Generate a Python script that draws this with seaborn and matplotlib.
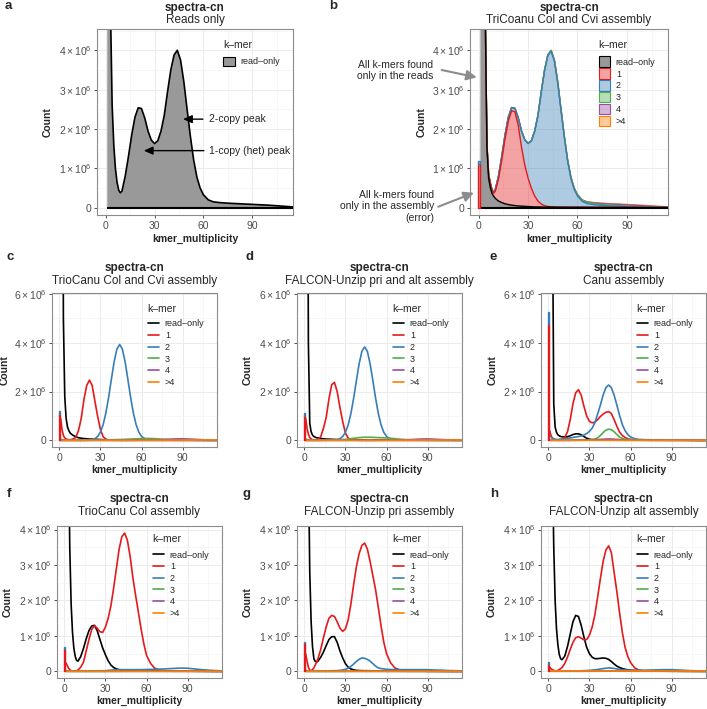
import numpy as np
import pandas as pd
import matplotlib
matplotlib.use("Agg")
import matplotlib.pyplot as plt
from matplotlib.ticker import MultipleLocator, FuncFormatter
from matplotlib.patches import Patch
from matplotlib.lines import Line2D
from matplotlib.colors import to_rgba
import seaborn as sns

# k-mer multiplicity grids: dense for the big curves, sparse for the flat ones
XS = [1, 2, 3, 4, 5, 6, 7, 8, 9, 10,
      12, 14, 16, 18, 20, 22, 24, 26, 28, 30,
      32, 34, 36, 38, 40, 42, 44, 46, 48, 50,
      52, 54, 56, 58, 60, 63, 66, 70, 75,
      80, 85, 90, 95, 100, 105, 110, 115]
XB = [1, 5, 10, 15, 20, 25, 30, 35, 40,
      44, 48, 52, 56, 60, 65, 70, 75,
      80, 85, 90, 95, 100, 105, 110, 115]

LEVELS = ["read–only", "1", "2", "3", "4", ">4"]
COLORS = ["#000000", "#E41A1C", "#377EB8", "#4DAF4A", "#984EA3", "#FF7F00"]
GRAY = "#999999"

# counts in millions
# a: reads only
a_read = [60, 20, 5.0, 2.6, 1.6, 1.0, 0.65, 0.45, 0.38, 0.42,
          0.8, 1.3, 1.85, 2.3, 2.54, 2.52, 2.28, 1.95, 1.72, 1.63,
          1.7, 1.95, 2.35, 2.95, 3.5, 3.88, 4.0, 3.75, 3.2, 2.5,
          1.82, 1.22, 0.78, 0.5, 0.33, 0.2, 0.15, 0.13, 0.115,
          0.105, 0.095, 0.085, 0.075, 0.065, 0.05, 0.035, 0.02]

# b: stacked layers
b_read = [60, 25, 12, 4.8, 1.5, 0.75, 0.52, 0.37, 0.3, 0.24,
          0.17, 0.13, 0.1, 0.08, 0.065, 0.055, 0.045, 0.04, 0.035, 0.03,
          0.025, 0.02, 0.02, 0.018, 0.016, 0.015, 0.014, 0.013, 0.012, 0.011,
          0.01, 0.01, 0.01, 0.01, 0.01, 0.01, 0.009, 0.008, 0.008,
          0.007, 0.007, 0.006, 0.006, 0.005, 0.005, 0.005, 0.004]
b_k1 = [0, 0, 0.05, 0.05, 0.08, 0.1, 0.1, 0.08, 0.07, 0.17,
        0.55, 1.08, 1.65, 2.12, 2.4, 2.38, 2.05, 1.5, 1.05, 0.72,
        0.47, 0.28, 0.15, 0.075, 0.035, 0.018, 0.01, 0.008, 0.008, 0.007,
        0.007, 0.006, 0.006, 0.005, 0.005, 0.005, 0.005, 0.005, 0.005,
        0.004, 0.004, 0.004, 0.003, 0.003, 0.003, 0.002, 0.002]
b_k2 = [0, 0, 0.02, 0.02, 0.02, 0.02, 0.02, 0.02, 0.02, 0.04,
        0.08, 0.09, 0.1, 0.1, 0.08, 0.09, 0.19, 0.41, 0.64, 0.88,
        1.2, 1.64, 2.17, 2.84, 3.43, 3.83, 3.95, 3.7, 3.15, 2.45,
        1.77, 1.17, 0.73, 0.45, 0.28, 0.14, 0.09, 0.063, 0.045,
        0.034, 0.026, 0.019, 0.013, 0.01, 0.004, 0.002, 0.0]
b_k3 = [0, 0, 0, 0, 0, 0, 0, 0, 0, 0,
        0, 0, 0, 0, 0, 0, 0, 0, 0, 0.005,
        0.01, 0.01, 0.012, 0.015, 0.018, 0.02, 0.022, 0.025, 0.028, 0.03,
        0.03, 0.032, 0.032, 0.032, 0.032, 0.03, 0.03, 0.028, 0.022,
        0.018, 0.014, 0.01, 0.008, 0.006, 0.005, 0.004, 0.003]
b_k4 = [0, 0, 0, 0, 0, 0, 0, 0, 0, 0,
        0, 0, 0, 0, 0, 0, 0, 0, 0, 0,
        0, 0, 0, 0, 0, 0, 0, 0, 0, 0,
        0, 0, 0, 0, 0.004, 0.008, 0.012, 0.02, 0.028,
        0.032, 0.034, 0.033, 0.03, 0.025, 0.018, 0.012, 0.007]
b_k5 = [0, 0, 0, 0, 0, 0, 0, 0, 0, 0,
        0, 0, 0, 0, 0, 0, 0, 0, 0, 0,
        0, 0, 0, 0, 0, 0, 0, 0, 0, 0,
        0, 0, 0, 0, 0.002, 0.003, 0.004, 0.004, 0.005,
        0.006, 0.008, 0.01, 0.012, 0.013, 0.012, 0.01, 0.008]

# c: TrioCanu Col and Cvi
c_read = [40, 25, 5, 1.8, 0.9, 0.55, 0.4, 0.3, 0.25, 0.21,
          0.15, 0.11, 0.09, 0.075, 0.065, 0.055, 0.05, 0.045, 0.04, 0.035,
          0.03, 0.025, 0.02, 0.018, 0.015, 0.013, 0.012, 0.011, 0.01, 0.01,
          0.01, 0.01, 0.01, 0.01, 0.01, 0.008, 0.008, 0.007, 0.006,
          0.006, 0.005, 0.005, 0.005, 0.004, 0.004, 0.003, 0.003]
c_k1 = [0.9, 0.45, 0.2, 0.1, 0.06, 0.04, 0.03, 0.03, 0.04, 0.06,
        0.12, 0.4, 0.9, 1.68, 2.25, 2.47, 2.25, 1.6, 0.98, 0.45,
        0.15, 0.05, 0.02, 0.01, 0.005, 0.005, 0.005, 0.004, 0.004, 0.004,
        0.004, 0.003, 0.003, 0.003, 0.003, 0.003, 0.002, 0.002, 0.002,
        0.002, 0.002, 0.002, 0.002, 0.002, 0.002, 0.002, 0.002]
c_k2 = [0.05, 0.03, 0.02, 0.01, 0.01, 0.01, 0.01, 0.01, 0.01, 0.01,
        0.01, 0.01, 0.01, 0.01, 0.01, 0.015, 0.03, 0.07, 0.16, 0.34,
        0.65, 1.13, 1.77, 2.51, 3.22, 3.74, 3.93, 3.74, 3.22, 2.51,
        1.77, 1.13, 0.65, 0.34, 0.16, 0.05, 0.02, 0.015, 0.015,
        0.015, 0.015, 0.015, 0.012, 0.01, 0.008, 0.006, 0.005]
c_k3 = [0, 0, 0, 0, 0.005, 0.01, 0.015, 0.02, 0.03,
        0.035, 0.045, 0.055, 0.065, 0.075, 0.08, 0.07, 0.05,
        0.035, 0.025, 0.015, 0.01, 0.008, 0.005, 0.004, 0.003]
c_k4 = [0, 0, 0, 0, 0, 0, 0, 0, 0,
        0, 0, 0, 0.002, 0.004, 0.008, 0.015, 0.03,
        0.045, 0.06, 0.065, 0.055, 0.04, 0.025, 0.015, 0.01]
c_k5 = [0.003, 0.003, 0.003, 0.003, 0.003, 0.003, 0.003, 0.003, 0.003,
        0.003, 0.003, 0.004, 0.004, 0.005, 0.006, 0.007, 0.008,
        0.01, 0.012, 0.014, 0.016, 0.018, 0.02, 0.022, 0.024]

# d: FALCON-Unzip pri and alt
d_read = [40, 20, 4, 0.7, 0.35, 0.22, 0.16, 0.13, 0.11, 0.1,
          0.08, 0.065, 0.055, 0.05, 0.045, 0.04, 0.035, 0.03, 0.028, 0.025,
          0.022, 0.02, 0.018, 0.016, 0.014, 0.013, 0.012, 0.011, 0.01, 0.01,
          0.01, 0.01, 0.01, 0.01, 0.01, 0.008, 0.008, 0.007, 0.006,
          0.006, 0.005, 0.005, 0.005, 0.004, 0.004, 0.003, 0.003]
d_k1 = [0.9, 0.5, 0.25, 0.12, 0.06, 0.03, 0.02, 0.02, 0.03, 0.05,
        0.15, 0.5, 0.95, 1.7, 2.28, 2.38, 2.0, 1.35, 0.78, 0.3,
        0.1, 0.03, 0.015, 0.01, 0.006, 0.005, 0.005, 0.004, 0.004, 0.004,
        0.004, 0.003, 0.003, 0.003, 0.003, 0.003, 0.002, 0.002, 0.002,
        0.002, 0.002, 0.002, 0.002, 0.002, 0.002, 0.002, 0.002]
d_k2 = [0.05, 0.03, 0.02, 0.01, 0.01, 0.01, 0.01, 0.01, 0.01, 0.01,
        0.01, 0.01, 0.01, 0.01, 0.01, 0.015, 0.03, 0.07, 0.16, 0.33,
        0.63, 1.1, 1.73, 2.45, 3.14, 3.65, 3.83, 3.65, 3.14, 2.45,
        1.73, 1.1, 0.63, 0.33, 0.16, 0.05, 0.025, 0.02, 0.02,
        0.02, 0.02, 0.018, 0.015, 0.012, 0.01, 0.008, 0.006]
d_k3 = [0, 0, 0, 0.005, 0.01, 0.02, 0.04, 0.08, 0.115,
        0.13, 0.13, 0.12, 0.11, 0.1, 0.075, 0.05, 0.03,
        0.02, 0.012, 0.008, 0.005, 0.004, 0.003, 0.002, 0.002]
d_k4 = [0, 0, 0, 0, 0, 0, 0, 0, 0,
        0, 0, 0.002, 0.003, 0.005, 0.01, 0.015, 0.025,
        0.04, 0.055, 0.06, 0.05, 0.035, 0.022, 0.012, 0.008]
d_k5 = [0.003, 0.003, 0.003, 0.003, 0.003, 0.003, 0.003, 0.003, 0.003,
        0.003, 0.003, 0.004, 0.004, 0.005, 0.006, 0.007, 0.008,
        0.01, 0.011, 0.012, 0.014, 0.015, 0.016, 0.018, 0.02]

# e: Canu
e_read = [40, 25, 10, 1.5, 0.55, 0.33, 0.23, 0.19, 0.16, 0.15,
          0.14, 0.15, 0.19, 0.24, 0.27, 0.27, 0.23, 0.16, 0.09, 0.05,
          0.03, 0.02, 0.015, 0.012, 0.01, 0.01, 0.01, 0.01, 0.01, 0.008,
          0.008, 0.007, 0.007, 0.006, 0.006, 0.005, 0.005, 0.005, 0.004,
          0.004, 0.004, 0.003, 0.003, 0.003, 0.002, 0.002, 0.002]
e_k1 = [0.4, 0.2, 0.08, 0.04, 0.02, 0.02, 0.02, 0.03, 0.04, 0.05,
        0.12, 0.35, 0.85, 1.5, 1.95, 2.08, 1.85, 1.4, 1.0, 0.78,
        0.72, 0.75, 0.85, 0.98, 1.08, 1.15, 1.18, 1.1, 0.85, 0.58,
        0.34, 0.2, 0.12, 0.07, 0.04, 0.02, 0.012, 0.008, 0.006,
        0.005, 0.005, 0.004, 0.004, 0.003, 0.003, 0.002, 0.002]
e_k2 = [0.2, 0.15, 0.1, 0.07, 0.05, 0.04, 0.04, 0.04, 0.04, 0.05,
        0.06, 0.08, 0.1, 0.12, 0.14, 0.16, 0.18, 0.22, 0.28, 0.37,
        0.5, 0.73, 1.08, 1.45, 1.86, 2.16, 2.27, 2.16, 1.86, 1.45,
        1.02, 0.65, 0.4, 0.24, 0.14, 0.07, 0.04, 0.03, 0.025,
        0.02, 0.02, 0.02, 0.015, 0.01, 0.01, 0.005, 0.004]
e_k3 = [0.01, 0.01, 0.01, 0.01, 0.01, 0.01, 0.01, 0.01, 0.01, 0.01,
        0.01, 0.01, 0.01, 0.015, 0.015, 0.02, 0.02, 0.02, 0.025, 0.03,
        0.04, 0.06, 0.11, 0.2, 0.32, 0.42, 0.46, 0.44, 0.36, 0.24,
        0.14, 0.08, 0.05, 0.04, 0.035, 0.03, 0.025, 0.02, 0.015,
        0.012, 0.01, 0.008, 0.006, 0.005, 0.004, 0.003, 0.002]
e_k4 = [0, 0, 0, 0, 0.005, 0.01, 0.015, 0.03, 0.05,
        0.06, 0.05, 0.035, 0.02, 0.015, 0.01, 0.01, 0.01,
        0.015, 0.02, 0.02, 0.015, 0.01, 0.005, 0.003, 0.002]
e_k5 = [0.003, 0.003, 0.003, 0.003, 0.003, 0.003, 0.003, 0.003, 0.003,
        0.003, 0.003, 0.003, 0.004, 0.004, 0.005, 0.005, 0.006,
        0.006, 0.007, 0.008, 0.008, 0.009, 0.01, 0.01, 0.01]

# f: TrioCanu Col
f_read = [40, 20, 7, 3.5, 1.9, 1.1, 0.65, 0.42, 0.31, 0.29,
          0.42, 0.65, 0.92, 1.15, 1.28, 1.3, 1.15, 0.9, 0.66, 0.47,
          0.3, 0.18, 0.11, 0.07, 0.05, 0.04, 0.035, 0.03, 0.03, 0.03,
          0.03, 0.03, 0.028, 0.026, 0.024, 0.02, 0.018, 0.015, 0.012,
          0.01, 0.01, 0.008, 0.007, 0.006, 0.005, 0.004, 0.003]
f_k1 = [0.25, 0.18, 0.1, 0.05, 0.02, 0.01, 0.01, 0.01, 0.02, 0.04,
        0.12, 0.26, 0.58, 0.9, 1.18, 1.29, 1.22, 1.12, 1.1, 1.25,
        1.5, 1.85, 2.35, 2.9, 3.45, 3.8, 3.9, 3.7, 3.25, 2.65,
        2.15, 1.68, 1.2, 0.78, 0.45, 0.22, 0.09, 0.035, 0.01,
        0.005, 0.005, 0.004, 0.004, 0.003, 0.003, 0.002, 0.002]
f_k2 = [0.02, 0.01, 0.01, 0.01, 0.01, 0.015, 0.02, 0.04, 0.05,
        0.05, 0.05, 0.05, 0.05, 0.055, 0.06, 0.065, 0.075,
        0.085, 0.095, 0.09, 0.07, 0.05, 0.035, 0.025, 0.015]
f_k3 = [0.005, 0.003, 0.003, 0.003, 0.003, 0.003, 0.004, 0.005, 0.006,
        0.007, 0.008, 0.008, 0.008, 0.008, 0.007, 0.007, 0.006,
        0.006, 0.006, 0.006, 0.005, 0.004, 0.003, 0.002, 0.002]
f_k4 = [0.002, 0.002, 0.002, 0.002, 0.002, 0.002, 0.002, 0.002, 0.002,
        0.002, 0.002, 0.002, 0.002, 0.003, 0.003, 0.003, 0.004,
        0.004, 0.005, 0.005, 0.004, 0.004, 0.003, 0.002, 0.002]
f_k5 = [0.003, 0.003, 0.003, 0.003, 0.003, 0.003, 0.003, 0.003, 0.003,
        0.003, 0.003, 0.003, 0.003, 0.003, 0.003, 0.003, 0.003,
        0.004, 0.004, 0.004, 0.004, 0.004, 0.004, 0.004, 0.004]

# g: FALCON-Unzip pri
g_read = [40, 20, 6, 2.8, 1.4, 0.7, 0.36, 0.28, 0.27, 0.29,
          0.4, 0.55, 0.73, 0.9, 0.98, 0.98, 0.82, 0.58, 0.38, 0.22,
          0.12, 0.07, 0.045, 0.03, 0.025, 0.022, 0.02, 0.02, 0.018, 0.016,
          0.015, 0.014, 0.013, 0.012, 0.01, 0.01, 0.009, 0.008, 0.006,
          0.005, 0.005, 0.004, 0.004, 0.003, 0.003, 0.002, 0.002]
g_k1 = [0.5, 0.3, 0.12, 0.04, 0.02, 0.05, 0.1, 0.18, 0.26, 0.36,
        0.62, 0.95, 1.26, 1.5, 1.58, 1.55, 1.4, 1.22, 1.13, 1.2,
        1.45, 1.9, 2.45, 2.95, 3.32, 3.55, 3.62, 3.45, 3.1, 2.7,
        2.3, 1.8, 1.28, 0.82, 0.5, 0.24, 0.1, 0.04, 0.015,
        0.01, 0.008, 0.006, 0.005, 0.004, 0.003, 0.002, 0.002]
g_k2 = [0.03, 0.02, 0.015, 0.01, 0.01, 0.01, 0.01, 0.01, 0.01, 0.01,
        0.01, 0.012, 0.014, 0.016, 0.018, 0.02, 0.022, 0.03, 0.04, 0.06,
        0.09, 0.14, 0.21, 0.28, 0.34, 0.38, 0.37, 0.34, 0.29, 0.22,
        0.15, 0.1, 0.08, 0.07, 0.06, 0.055, 0.05, 0.05, 0.05,
        0.05, 0.05, 0.05, 0.04, 0.035, 0.025, 0.02, 0.015]
g_k3 = [0.004, 0.003, 0.003, 0.003, 0.003, 0.004, 0.005, 0.006, 0.008,
        0.01, 0.01, 0.009, 0.008, 0.007, 0.006, 0.005, 0.005,
        0.005, 0.005, 0.005, 0.004, 0.004, 0.003, 0.002, 0.002]
g_k4 = [0.002, 0.002, 0.002, 0.002, 0.002, 0.002, 0.002, 0.002, 0.002,
        0.002, 0.002, 0.002, 0.002, 0.002, 0.002, 0.002, 0.003,
        0.003, 0.003, 0.003, 0.003, 0.003, 0.002, 0.002, 0.002]
g_k5 = [0.003, 0.003, 0.003, 0.003, 0.003, 0.003, 0.003, 0.003, 0.003,
        0.003, 0.003, 0.003, 0.003, 0.003, 0.003, 0.003, 0.003,
        0.003, 0.004, 0.004, 0.004, 0.004, 0.004, 0.004, 0.004]

# h: FALCON-Unzip alt
h_read = [40, 20, 6, 3.5, 2.0, 1.2, 0.75, 0.48, 0.36, 0.33,
          0.43, 0.7, 1.05, 1.4, 1.58, 1.55, 1.3, 0.97, 0.68, 0.5,
          0.4, 0.36, 0.36, 0.37, 0.38, 0.37, 0.34, 0.28, 0.21, 0.15,
          0.11, 0.08, 0.06, 0.045, 0.035, 0.025, 0.02, 0.015, 0.01,
          0.01, 0.008, 0.007, 0.006, 0.005, 0.004, 0.003, 0.002]
h_k1 = [0.12, 0.08, 0.05, 0.03, 0.02, 0.02, 0.03, 0.05, 0.08, 0.11,
        0.22, 0.4, 0.62, 0.82, 0.95, 0.98, 0.94, 0.89, 0.9, 1.02,
        1.25, 1.6, 2.1, 2.62, 3.1, 3.42, 3.54, 3.35, 2.8, 2.25,
        1.65, 1.1, 0.68, 0.42, 0.25, 0.1, 0.04, 0.015, 0.01,
        0.008, 0.006, 0.005, 0.004, 0.003, 0.003, 0.002, 0.002]
h_k2 = [0.03, 0.01, 0.01, 0.01, 0.015, 0.02, 0.03, 0.05, 0.08,
        0.1, 0.085, 0.055, 0.04, 0.035, 0.035, 0.035, 0.04,
        0.045, 0.05, 0.05, 0.04, 0.03, 0.02, 0.015, 0.01]
h_k3 = [0.003, 0.003, 0.003, 0.003, 0.003, 0.003, 0.004, 0.005, 0.006,
        0.007, 0.007, 0.006, 0.005, 0.005, 0.004, 0.004, 0.004,
        0.004, 0.004, 0.004, 0.003, 0.003, 0.002, 0.002, 0.002]
h_k4 = [0.002, 0.002, 0.002, 0.002, 0.002, 0.002, 0.002, 0.002, 0.002,
        0.002, 0.002, 0.002, 0.002, 0.002, 0.002, 0.002, 0.002,
        0.002, 0.002, 0.002, 0.002, 0.002, 0.002, 0.002, 0.002]
h_k5 = [0.003, 0.003, 0.003, 0.003, 0.003, 0.003, 0.003, 0.003, 0.003,
        0.003, 0.003, 0.003, 0.003, 0.003, 0.003, 0.003, 0.003,
        0.003, 0.003, 0.003, 0.003, 0.003, 0.003, 0.003, 0.003]

# stacked bar at multiplicity 0 (read-only, 1, 2, 3, 4, >4)
b_zero = [0, 1.12, 0.07, 0, 0, 0]
c_zero = [0, 1.1, 0.1, 0, 0, 0]
d_zero = [0, 0.98, 0.16, 0, 0, 0]
e_zero = [0, 4.78, 0.47, 0, 0, 0]
f_zero = [0, 0.62, 0.07, 0, 0, 0]
g_zero = [0, 0.8, 0.04, 0, 0, 0]
h_zero = [0, 0.21, 0.06, 0, 0, 0]

sns.set_theme(style="whitegrid")
plt.rcParams["font.family"] = ["Liberation Sans", "DejaVu Sans"]
plt.rcParams["mathtext.fontset"] = "custom"
plt.rcParams["mathtext.rm"] = "Liberation Sans"
plt.rcParams["mathtext.it"] = "Liberation Sans:italic"
plt.rcParams["mathtext.bf"] = "Liberation Sans:bold"

W, H = 707, 709
fig = plt.figure(figsize=(W / 100, H / 100), dpi=100)
fig.patch.set_facecolor("white")


def add_panel(l, t, r, b):
    return fig.add_axes([l / W, 1 - b / H, (r - l) / W, (b - t) / H])


def sci(v, pos):
    if abs(v) < 1:
        return "0"
    return r"$%d\times10^{6}$" % round(v / 1e6)


def style(ax, ylim, ystep):
    ax.set_xlim(-5.3, 115)
    ax.set_ylim(ylim[0] * 1e6, ylim[1] * 1e6)
    ax.xaxis.set_major_locator(MultipleLocator(30))
    ax.xaxis.set_minor_locator(MultipleLocator(15))
    ax.yaxis.set_major_locator(MultipleLocator(ystep * 1e6))
    ax.yaxis.set_minor_locator(MultipleLocator(ystep * 0.5e6))
    ax.yaxis.set_major_formatter(FuncFormatter(sci))
    ax.grid(which="major", color="#ebebeb", lw=0.7)
    ax.grid(which="minor", color="#f3f3f3", lw=0.45)
    ax.set_axisbelow(True)
    ax.tick_params(which="major", length=2.5, width=0.6, color="#333333",
                   labelsize=7.5, labelcolor="#4d4d4d", pad=1.5,
                   bottom=True, left=True)
    ax.tick_params(which="minor", length=0)
    for s in ax.spines.values():
        s.set_color("#8c8c8c")
        s.set_linewidth(0.8)
    ax.set_xlabel("")
    ax.set_ylabel("")


def key(ax, box, handles, xfrac, title_off, entry_off, **kw):
    """legend title drawn as text so the gap to the entries can be set"""
    hpx = box[3] - box[1]
    ax.text(xfrac, 1 - title_off / hpx, "k–mer", transform=ax.transAxes,
            ha="left", va="center", fontsize=7.5)
    ax.legend(handles, LEVELS[:len(handles)], loc="upper left",
              bbox_to_anchor=(xfrac, 1 - (entry_off - 5.5) / hpx),
              frameon=False, fontsize=6.5, handlelength=1.3,
              handletextpad=0.6, borderpad=0, borderaxespad=0, **kw)


def zero_bar(ax, vals, filled):
    bottom = 0
    for i, v in enumerate(vals):
        if v <= 0:
            continue
        ax.bar(0, v * 1e6, bottom=bottom * 1e6, width=1.0,
               color=to_rgba(COLORS[i], 0.45 if filled else 0.2),
               edgecolor=COLORS[i], linewidth=1.0, zorder=3)
        bottom += v


def line_panel(ax, box, dense, sparse, zero, offs):
    frames = []
    for lev, vals in dense:
        frames.append(pd.DataFrame({"x": XS, "y": np.array(vals) * 1e6, "kmer": LEVELS[lev]}))
    for lev, vals in sparse:
        frames.append(pd.DataFrame({"x": XB, "y": np.array(vals) * 1e6, "kmer": LEVELS[lev]}))
    df = pd.concat(frames, ignore_index=True)
    sns.lineplot(data=df, x="x", y="y", hue="kmer", hue_order=LEVELS,
                 palette=COLORS, linewidth=1.2, estimator=None,
                 legend=False, ax=ax)
    zero_bar(ax, zero, False)
    handles = [Line2D([], [], color=c, lw=1.2) for c in COLORS]
    key(ax, box, handles, 0.58, offs[0], offs[1], labelspacing=0.3)


def labels(box, letter, sub, title_y, xlab_y, count_x, letter_xy):
    l, t, r, b = box
    cx = (l + r) / 2
    fig.text(cx / W, 1 - title_y[0] / H, "spectra-cn", ha="center",
             va="baseline", fontsize=8.5, fontweight="bold")
    fig.text(cx / W, 1 - title_y[1] / H, sub, ha="center", va="baseline",
             fontsize=8.5)
    fig.text(cx / W, 1 - xlab_y / H, "kmer_multiplicity", ha="center",
             va="baseline", fontsize=7.5, fontweight="bold")
    fig.text(count_x / W, 1 - ((t + b) / 2) / H, "Count", ha="center",
             va="center", rotation=90, fontsize=7.5, fontweight="bold")
    fig.text(letter_xy[0] / W, 1 - letter_xy[1] / H, letter, ha="center",
             va="center", fontsize=9.5, fontweight="bold")


BOX = {
    "a": (97, 29, 293, 215), "b": (470, 29, 668, 215),
    "c": (52, 293, 217, 447), "d": (297, 293, 462, 447), "e": (541, 293, 706, 447),
    "f": (57, 526, 222, 678), "g": (297, 526, 462, 678), "h": (541, 526, 706, 678),
}
ROW1, ROW2, ROW3 = (-0.185, 4.54), (-0.27, 6.04), (-0.185, 4.1)

# ---- a: reads only ----
ax = add_panel(*BOX["a"])
ya = np.array(a_read) * 1e6
ax.fill_between(XS, 0, ya, color=GRAY, lw=0)
sns.lineplot(x=XS, y=ya, color="black", linewidth=1.2, ax=ax)
ax.hlines(0, XS[0], XS[-1], color="black", lw=1.5)
style(ax, ROW1, 1)
ax.annotate("", xy=(47.5, 2.25e6), xytext=(59.7, 2.25e6),
            arrowprops=dict(arrowstyle="-|>,head_length=0.45,head_width=0.2",
                            color="black", lw=1.0, shrinkA=0, shrinkB=0))
ax.annotate("", xy=(23.4, 1.45e6), xytext=(60.3, 1.45e6),
            arrowprops=dict(arrowstyle="-|>,head_length=0.45,head_width=0.2",
                            color="black", lw=1.0, shrinkA=0, shrinkB=0))
ax.text(63.5, 2.25e6, "2-copy peak", va="center", ha="left", fontsize=7.5)
ax.text(63.5, 1.45e6, "1-copy (het) peak", va="center", ha="left", fontsize=7.5)
key(ax, BOX["a"], [Patch(facecolor=GRAY, edgecolor="black", lw=0.8)],
    0.645, 16, 33, handleheight=1.3)
labels(BOX["a"], "a", "Reads only", (10.5, 23), 242, 48, (8, 6))

# ---- b: stacked ----
ax = add_panel(*BOX["b"])
layers = np.array([b_read, b_k1, b_k2, b_k3, b_k4, b_k5]) * 1e6
stack = np.cumsum(layers, axis=0)
prev = np.zeros(len(XS))
for i in range(len(LEVELS)):
    fc = GRAY if i == 0 else to_rgba(COLORS[i], 0.4)
    ax.fill_between(XS, prev, stack[i], color=fc, lw=0)
    prev = stack[i]
# outlines: upper layers first so the lower edges stay visible where layers are empty
for i in reversed(range(len(LEVELS))):
    sns.lineplot(x=XS, y=stack[i], color=COLORS[i], linewidth=1.0, ax=ax)
ax.hlines(0, XS[0], XS[-1], color="black", lw=1.5)
zero_bar(ax, b_zero, True)
style(ax, ROW1, 1)
bh = [Patch(facecolor=GRAY, edgecolor="black", lw=0.8)] + \
     [Patch(facecolor=to_rgba(c, 0.4), edgecolor=c, lw=0.8) for c in COLORS[1:]]
key(ax, BOX["b"], bh, 0.65, 16, 33, handleheight=1.35, labelspacing=0.2)
arrow = dict(arrowstyle="-|>,head_length=0.5,head_width=0.25", color="#8c8c8c",
             lw=1.5, shrinkA=0, shrinkB=0)
ax.annotate("", xy=(-1.2, 3.31e6), xytext=(441.7, H - 70),
            textcoords="figure pixels", arrowprops=arrow, annotation_clip=False)
ax.annotate("", xy=(-2.9, 0.38e6), xytext=(438.3, H - 206.7),
            textcoords="figure pixels", arrowprops=arrow, annotation_clip=False)
fig.text(433 / W, 1 - 70.5 / H, "All k-mers found\nonly in the reads",
         ha="right", va="center", multialignment="right", fontsize=7.5,
         linespacing=1.2)
fig.text(434 / W, 1 - 206.3 / H,
         "All k-mers found\nonly in the assembly\n(error)",
         ha="right", va="center", multialignment="right", fontsize=7.5,
         linespacing=1.2)
labels(BOX["b"], "b", "TriCoanu Col and Cvi assembly", (10.5, 23), 242, 421.7, (333, 6))

# ---- c, d, e ----
ax = add_panel(*BOX["c"])
line_panel(ax, BOX["c"], [(0, c_read), (1, c_k1), (2, c_k2)],
           [(3, c_k3), (4, c_k4), (5, c_k5)], c_zero, (16, 32))
style(ax, ROW2, 2)
labels(BOX["c"], "c", "TrioCanu Col and Cvi assembly", (271, 284), 473, 5, (10, 257))

ax = add_panel(*BOX["d"])
line_panel(ax, BOX["d"], [(0, d_read), (1, d_k1), (2, d_k2)],
           [(3, d_k3), (4, d_k4), (5, d_k5)], d_zero, (16, 32))
style(ax, ROW2, 2)
labels(BOX["d"], "d", "FALCON-Unzip pri and alt assembly", (271, 284), 473, 248, (250, 257))

ax = add_panel(*BOX["e"])
line_panel(ax, BOX["e"], [(0, e_read), (1, e_k1), (2, e_k2), (3, e_k3)],
           [(4, e_k4), (5, e_k5)], e_zero, (16, 32))
style(ax, ROW2, 2)
labels(BOX["e"], "e", "Canu assembly", (271, 284), 473, 493, (493, 257))

# ---- f, g, h ----
ax = add_panel(*BOX["f"])
line_panel(ax, BOX["f"], [(0, f_read), (1, f_k1)],
           [(2, f_k2), (3, f_k3), (4, f_k4), (5, f_k5)], f_zero, (13.5, 30))
style(ax, ROW3, 1)
labels(BOX["f"], "f", "TrioCanu Col assembly", (502, 515), 704, 8, (9, 494))

ax = add_panel(*BOX["g"])
line_panel(ax, BOX["g"], [(0, g_read), (1, g_k1), (2, g_k2)],
           [(3, g_k3), (4, g_k4), (5, g_k5)], g_zero, (13.5, 30))
style(ax, ROW3, 1)
labels(BOX["g"], "g", "FALCON-Unzip pri assembly", (502, 515), 704, 248, (246, 494))

ax = add_panel(*BOX["h"])
line_panel(ax, BOX["h"], [(0, h_read), (1, h_k1)],
           [(2, h_k2), (3, h_k3), (4, h_k4), (5, h_k5)], h_zero, (13.5, 30))
style(ax, ROW3, 1)
labels(BOX["h"], "h", "FALCON-Unzip alt assembly", (502, 515), 704, 492, (494, 494))

fig.savefig("out.png", dpi=100, facecolor="white")
